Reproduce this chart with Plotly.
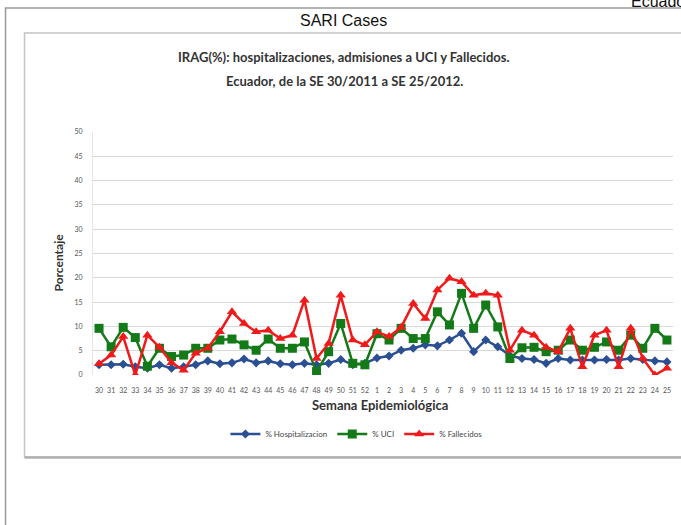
import plotly.graph_objects as go

weeks = [str(w) for w in range(30, 53)] + [str(w) for w in range(1, 26)]

hospitalizacion = [2.1, 2.1, 2.2, 1.7, 1.4, 2.1, 1.4, 1.7, 2.1, 2.9, 2.3, 2.5, 3.3, 2.5, 2.9, 2.3,
                   2.1, 2.4, 2.1, 2.4, 3.2, 2.1, 2.4,
                   3.5, 3.9, 5.1, 5.5, 6.2, 6.0, 7.2, 8.6, 4.8, 7.2, 5.8, 4.0, 3.4, 3.2, 2.4,
                   3.4, 3.1, 3.1, 3.1, 3.2, 3.1, 3.4, 3.2, 2.9, 2.7]
uci = [9.6, 5.8, 9.8, 7.7, 1.8, 5.5, 3.8, 4.1, 5.5, 5.5, 7.2, 7.4, 6.2, 5.1, 7.4, 5.5,
       5.5, 6.8, 0.7, 4.8, 10.6, 2.4, 2.1,
       8.5, 7.2, 9.6, 7.5, 7.5, 13.0, 10.3, 16.8, 9.6, 14.4, 9.9, 3.4, 5.6, 5.7, 4.8,
       5.1, 7.2, 5.1, 5.7, 6.8, 5.1, 8.2, 5.5, 9.6, 7.2]
fallecidos = [2.3, 4.1, 7.9, 0.0, 8.2, 5.7, 2.5, 1.0, 4.5, 5.5, 8.9, 13.0, 10.6, 8.9, 9.2, 7.5,
              8.2, 15.4, 3.4, 6.5, 16.4, 7.2, 6.2,
              8.9, 7.9, 9.8, 14.7, 11.6, 17.5, 19.9, 19.2, 16.4, 16.8, 16.4, 5.1, 9.2, 8.2, 5.7,
              4.8, 9.6, 1.7, 8.2, 9.2, 1.7, 9.6, 3.4, 0.0, 1.4]

y_ticks = [0, 5, 10, 15, 20, 25, 30, 35, 40, 45, 50]

W, H = 681, 525
L, R, T, B = 92.5, 8.3, 132, 150
PW, PH = W - L - R, H - T - B


def px(x):
    return (x - L) / PW


def py(y):
    return (H - B - y) / PH


BLUE = "#2B4F93"
GREEN = "#137A17"
RED = "#F01A1A"

fig = go.Figure()
fig.add_trace(go.Scatter(x=weeks, y=hospitalizacion, name="% Hospitalizacion", mode="lines+markers",
                         line=dict(color=BLUE, width=2.5),
                         marker=dict(symbol="diamond", size=7, color=BLUE)))
fig.add_trace(go.Scatter(x=weeks, y=uci, name="% UCI", mode="lines+markers",
                         line=dict(color=GREEN, width=2.5),
                         marker=dict(symbol="square", size=9, color=GREEN)))
fig.add_trace(go.Scatter(x=weeks, y=fallecidos, name="% Fallecidos", mode="lines+markers",
                         line=dict(color=RED, width=2.5),
                         marker=dict(symbol="triangle-up", size=9, color=RED)))

shapes = [
    # outer page box
    dict(type="rect", xref="paper", yref="paper", x0=px(5), x1=px(700), y0=py(8), y1=py(545),
         line=dict(color="#9A9A9A", width=1.5), fillcolor="rgba(0,0,0,0)", layer="below"),
    # inner chart image box
    dict(type="rect", xref="paper", yref="paper", x0=px(24), x1=px(700), y0=py(33), y1=py(457),
         line=dict(color="#C4C4C4", width=1.5), fillcolor="rgba(0,0,0,0)", layer="below"),
    dict(type="line", xref="paper", yref="paper", x0=px(24), x1=px(700), y0=py(457.5), y1=py(457.5),
         line=dict(color="#B0B0B0", width=2.5), layer="below"),
]

annotations = [
    dict(text="SARI Cases", xref="paper", yref="paper", x=px(343), y=py(20), xanchor="center",
         yanchor="middle", showarrow=False, font=dict(family="Liberation Sans, Arial", size=16, color="#111")),
    dict(text="Ecuador", xref="paper", yref="paper", x=px(629), y=py(12), xanchor="left",
         yanchor="bottom", showarrow=False, font=dict(family="Liberation Sans, Arial", size=16, color="#111")),
    dict(text="<b>IRAG(%): hospitalizaciones, admisiones a UCI y Fallecidos.</b>", xref="paper", yref="paper",
         x=px(344), y=py(57), xanchor="center", yanchor="middle", showarrow=False,
         font=dict(family="Lato, Open Sans", size=13, color="#333")),
    dict(text="<b>Ecuador, de la SE 30/2011 a SE 25/2012.</b>", xref="paper", yref="paper",
         x=px(344), y=py(81), xanchor="center", yanchor="middle", showarrow=False,
         font=dict(family="Lato, Open Sans", size=13, color="#333")),
    dict(text="<b>Porcentaje</b>", xref="paper", yref="paper", x=px(57), y=py(263), textangle=-90,
         xanchor="center", yanchor="middle", showarrow=False,
         font=dict(family="Lato, Open Sans", size=12, color="#333")),
    dict(text="<b>Semana Epidemiológica</b>", xref="paper", yref="paper", x=px(380), y=py(405),
         xanchor="center", yanchor="middle", showarrow=False,
         font=dict(family="Lato, Open Sans", size=13, color="#333")),
]

fig.update_layout(
    width=W, height=H,
    margin=dict(l=L, r=R, t=T, b=B, pad=0),
    paper_bgcolor="white", plot_bgcolor="white",
    shapes=shapes, annotations=annotations,
    showlegend=True,
    legend=dict(orientation="h", x=px(356), y=py(434), xanchor="center", yanchor="middle",
                font=dict(family="Lato, Open Sans", size=8, color="#444"),
                bgcolor="rgba(0,0,0,0)", itemwidth=30, tracegroupgap=0),
    xaxis=dict(type="category", categoryorder="array", categoryarray=weeks,
               range=[-0.5, len(weeks) - 0.5], showgrid=False, zeroline=False,
               showline=False, tickfont=dict(family="Lato, Open Sans", size=7, color="#555"),
               tickangle=0, ticks="", ticklabelstandoff=10, fixedrange=True),
    yaxis=dict(range=[0, 50], tickvals=y_ticks, ticktext=[str(v) for v in y_ticks],
               showgrid=True, gridcolor="#D9D9D9", gridwidth=1.2, zeroline=False,
               showline=True, linecolor="#E6E6E6", linewidth=1,
               tickfont=dict(family="Lato, Open Sans", size=7, color="#555"),
               ticks="", ticklabelstandoff=8, fixedrange=True),
)

fig.write_html("out.html", config={"displayModeBar": False},
               post_script="document.body.style.margin='0';document.body.style.overflow='hidden';")
